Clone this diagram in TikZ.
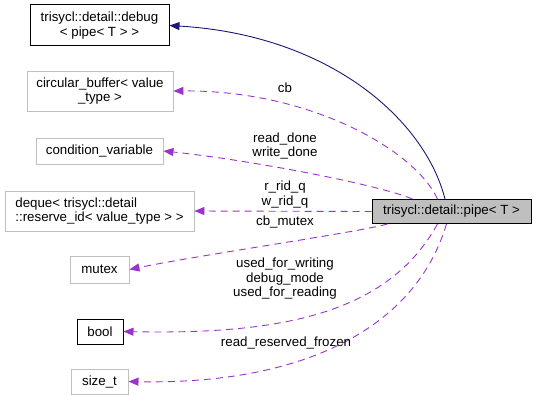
\documentclass[tikz,border=0pt]{standalone}
\usepackage{fontspec}
\setmainfont{Liberation Sans}
\usetikzlibrary{arrows.meta}
\definecolor{memb}{HTML}{9A32CD}
\definecolor{inhc}{HTML}{191970}
\definecolor{grayb}{HTML}{BFBFBF}
\begin{document}
\begin{tikzpicture}[x=1pt,y=-1pt,
  every node/.style={font=\fontsize{13.3}{14.5}\selectfont},
  cls/.style={draw=grayb,line width=0.9pt,inner sep=0pt,align=center},
  clsb/.style={draw=black,line width=1pt,inner sep=0pt,align=center},
  inh/.style={draw=inhc,line width=0.9pt,-{Triangle[length=10pt,width=8pt]}},
  mem/.style={draw=memb,line width=0.9pt,dash pattern=on 7pt off 5pt,-{Triangle[length=10pt,width=8pt]}},
  lbl/.style={align=center,inner sep=0pt,font=\fontsize{13.3}{14.5}\selectfont}]
\useasboundingbox (0,0) rectangle (537,401);
\node[clsb,minimum width=139pt,minimum height=41pt] (debug) at (99.5,25.5) {trisycl::detail::debug\\\textless{} pipe\textless{} T \textgreater{} \textgreater{}};
\node[cls,minimum width=146pt,minimum height=40pt] (circ) at (100,91) {circular\_buffer\textless{} value\\\_type \textgreater{}};
\node[cls,minimum width=127pt,minimum height=26pt] (cond) at (99.5,151) {condition\_variable};
\node[cls,minimum width=189pt,minimum height=40pt,align=left] (deque) at (99.5,211) {deque\textless{} trisycl::detail\\::reserve\_id\textless{} value\_type \textgreater{} \textgreater{}};
\node[cls,minimum width=59pt,minimum height=27pt] (mutex) at (99.5,269.5) {mutex};
\node[clsb,minimum width=46pt,minimum height=25pt] (bool) at (100,331.5) {bool};
\node[cls,minimum width=57pt,minimum height=25pt] (sizet) at (99.5,381.5) {size\_t};
\node[draw=black,fill=grayb,line width=0.9pt,inner sep=0pt,minimum width=159pt,minimum height=24pt] (pipe) at (451.5,211.5) {trisycl::detail::pipe\textless{} T \textgreater{}};

\draw[inh] ([xshift=-6.5pt]pipe.north) .. controls (425,120) and (330,35) .. (debug.east);
\draw[mem] ([xshift=-14pt]pipe.north) .. controls (415,150) and (310,90) .. (circ.east);
\draw[mem] ([xshift=-39pt]pipe.north) .. controls (380,185) and (250,160) .. (cond.east);
\draw[mem] (pipe.west) -- (deque.east);
\draw[mem] ([xshift=-64pt]pipe.south) .. controls (360,232) and (200,255) .. (mutex.east);
\draw[mem] ([xshift=-14pt]pipe.south) .. controls (390,310) and (290,335) .. (bool.east);
\draw[mem] ([xshift=-5pt]pipe.south) .. controls (415,330) and (300,385) .. (sizet.east);

\node[lbl] (lcb) at (285,88) {cb};
\node[lbl] (lcond) at (285,146) {read\_done\\write\_done};
\node[lbl] (ldeq) at (285,194.5) {r\_rid\_q\\w\_rid\_q};
\node[lbl] (lmut) at (285,222.5) {cb\_mutex};
\node[lbl] (lbool) at (285,279) {used\_for\_writing\\debug\_mode\\used\_for\_reading};
\node[lbl] (lsz) at (286,343) {read\_reserved\_frozen};
\end{tikzpicture}
\end{document}
